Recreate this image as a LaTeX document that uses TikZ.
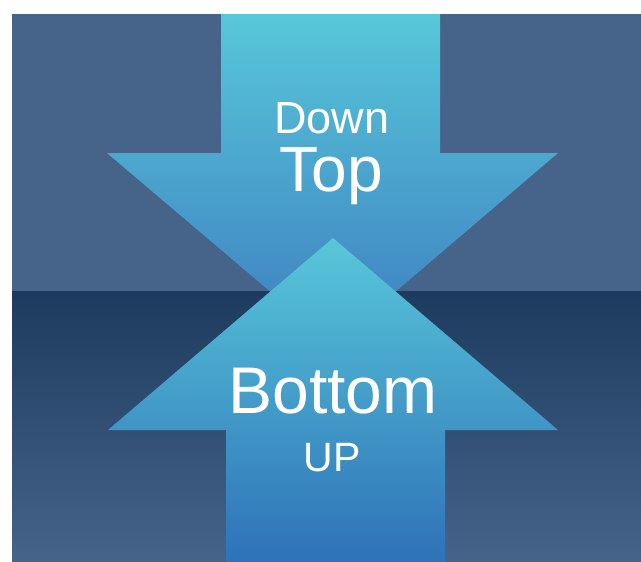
\documentclass[tikz,border=0pt]{standalone}
\usepackage{fontspec}
\setmainfont{Liberation Sans}
\definecolor{bgtop}{HTML}{46648A}
\definecolor{bgdark}{HTML}{1D3B5E}
\definecolor{arrowlight}{HTML}{58C7D9}
\definecolor{arrowdownend}{HTML}{3D7EC0}
\definecolor{arrowupend}{HTML}{2E72B8}
\tikzset{
  lbl/.style={text=white, inner sep=0pt, anchor=base},
}
\begin{document}
\begin{tikzpicture}[x=1pt,y=-1pt]
\useasboundingbox (0,0) rectangle (641,562);
% background
\fill[white] (0,0) rectangle (641,562);
\fill[bgtop] (12,14) rectangle (641,291);
\shade[top color=bgdark, bottom color=bgtop] (12,291) rectangle (641,562);
% down arrow
\shade[top color=arrowlight, bottom color=arrowdownend]
  (221,14) -- (440,14) -- (440,153) -- (558,153) -- (333,345) -- (107,153) -- (221,153) -- cycle;
% up arrow
\shade[top color=arrowlight, bottom color=arrowupend]
  (333,238) -- (558,430) -- (445,430) -- (445,562) -- (226,562) -- (226,430) -- (108,430) -- cycle;
% labels
\node[lbl, font=\fontsize{45}{45}\selectfont] (down) at (332,133) {Down};
\node[lbl, font=\fontsize{64}{64}\selectfont] (top) at (331,191) {Top};
\node[lbl, font=\fontsize{66}{66}\selectfont] (bottom) at (333,413) {Bottom};
\node[lbl, font=\fontsize{41}{41}\selectfont] (up) at (332,471) {UP};
\end{tikzpicture}
\end{document}
